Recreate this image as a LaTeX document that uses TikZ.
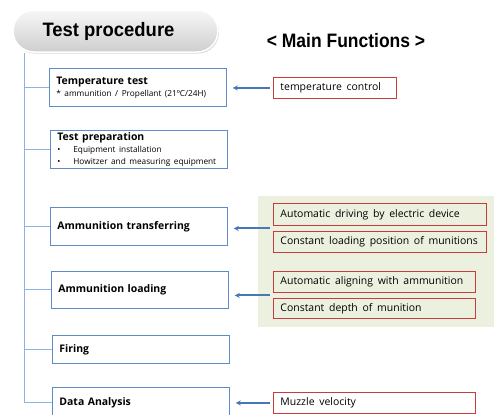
\documentclass[tikz,border=0pt]{standalone}
\usepackage{fontspec}
\setmainfont{Open Sans}
\newfontfamily\titlefont{Liberation Sans}[FakeStretch=0.95]
\newfontfamily\mffont{Liberation Sans}[FakeStretch=0.9]
\usetikzlibrary{arrows.meta,shadows,calc}
\definecolor{greenbg}{RGB}{235,241,222}
\definecolor{boxblue}{RGB}{95,140,200}
\definecolor{connblue}{RGB}{141,179,226}
\definecolor{arrblue}{RGB}{70,120,185}
\definecolor{redline}{RGB}{200,60,60}
\newcommand{\widesp}{\spaceskip=0.45em\relax}
\tikzset{
 pbox/.style={draw=boxblue, line width=0.8bp, anchor=north west, text width=163bp, inner xsep=7bp, inner ysep=1bp, align=left, fill=white, font=\fontsize{10.5}{12}\selectfont\bfseries},
 fbox/.style={draw=redline, line width=0.9bp, anchor=north west, inner xsep=7bp, inner ysep=1bp, align=left, font=\fontsize{10.5}{12}\selectfont, execute at begin node=\widesp},
 conn/.style={draw=connblue, line width=1bp},
 arr/.style={draw=arrblue, line width=2bp, -{Stealth[length=5bp,width=5bp]}},
 pill/.style={rounded corners=21bp, minimum width=205bp, minimum height=42bp, draw=white, line width=1.5bp, top color=gray!6, bottom color=gray!38, drop shadow={opacity=0.3, shadow xshift=1bp, shadow yshift=-1.5bp}, font=\titlefont\bfseries\fontsize{19.5}{24}\selectfont},
}
\newcommand{\subtxt}{\mdseries\fontsize{8.3}{12}\selectfont}
\newcommand{\bul}{\makebox[16bp][l]{•}}
\begin{document}
\begin{tikzpicture}[x=1bp,y=-1bp]
\useasboundingbox (0,0) rectangle (496,414);
\fill[greenbg] (258,196) rectangle (494,327);
\node[pill] (title) at (115.5,31) {\hspace*{-14bp}Test procedure};
\node[font=\mffont\bfseries\fontsize{19.5}{24}\selectfont] (mf) at (346,41) {<\ Main Functions\ >};

\node[pbox, minimum height=38bp] (tt) at (49,68) {Temperature test\\{\subtxt * ammunition / Propellant (21ºC/24H)}};
\node[pbox, minimum height=38bp] (tp) at (50,130) {Test preparation\\{\subtxt\bul Equipment installation}\\{\subtxt\bul Howitzer and measuring equipment}};
\node[pbox, minimum height=38bp] (at) at (50,207) {Ammunition transferring};
\node[pbox, minimum height=37bp] (al) at (51,271) {Ammunition loading};
\node[pbox, minimum height=28bp] (fi) at (52,335) {Firing};
\node[pbox, minimum height=30bp] (da) at (52,387) {Data Analysis};

\node[fbox, text width=109bp, minimum height=21bp] (tc) at (273,77) {temperature control};
\node[fbox, text width=199bp, minimum height=22bp] (ad) at (273,203) {Automatic driving by electric device};
\node[fbox, text width=199bp, minimum height=21bp] (cl) at (273,231) {Constant loading position of munitions};
\node[fbox, text width=188bp, minimum height=21bp] (aa) at (273,271) {Automatic aligning with ammunition};
\node[fbox, text width=188bp, minimum height=20bp] (cd) at (273,298) {Constant depth of munition};
\node[fbox, text width=188bp, minimum height=21bp] (mv) at (273,392) {Muzzle velocity};

\coordinate (sp) at ([xshift=12bp]title.south west);
\draw[conn] (sp) -- (sp |- da.west);
\foreach \b in {tt,tp,at,al,fi,da} \draw[conn] (sp |- \b.west) -- (\b.west);

\coordinate (g1) at ($(ad.south west)!0.5!(cl.north west)$);
\coordinate (g2) at ($(aa.south west)!0.5!(cd.north west)$);
\draw[arr] ([xshift=-3bp]tc.west) -- ([xshift=6bp]tt.east |- tc.west);
\draw[arr] ([xshift=-3bp]g1) -- ([xshift=6bp]at.east |- g1);
\draw[arr] ([xshift=-3bp]g2) -- ([xshift=6bp]al.east |- g2);
\draw[arr] ([xshift=-3bp]mv.west) -- ([xshift=6bp]da.east |- mv.west);
\end{tikzpicture}
\end{document}
